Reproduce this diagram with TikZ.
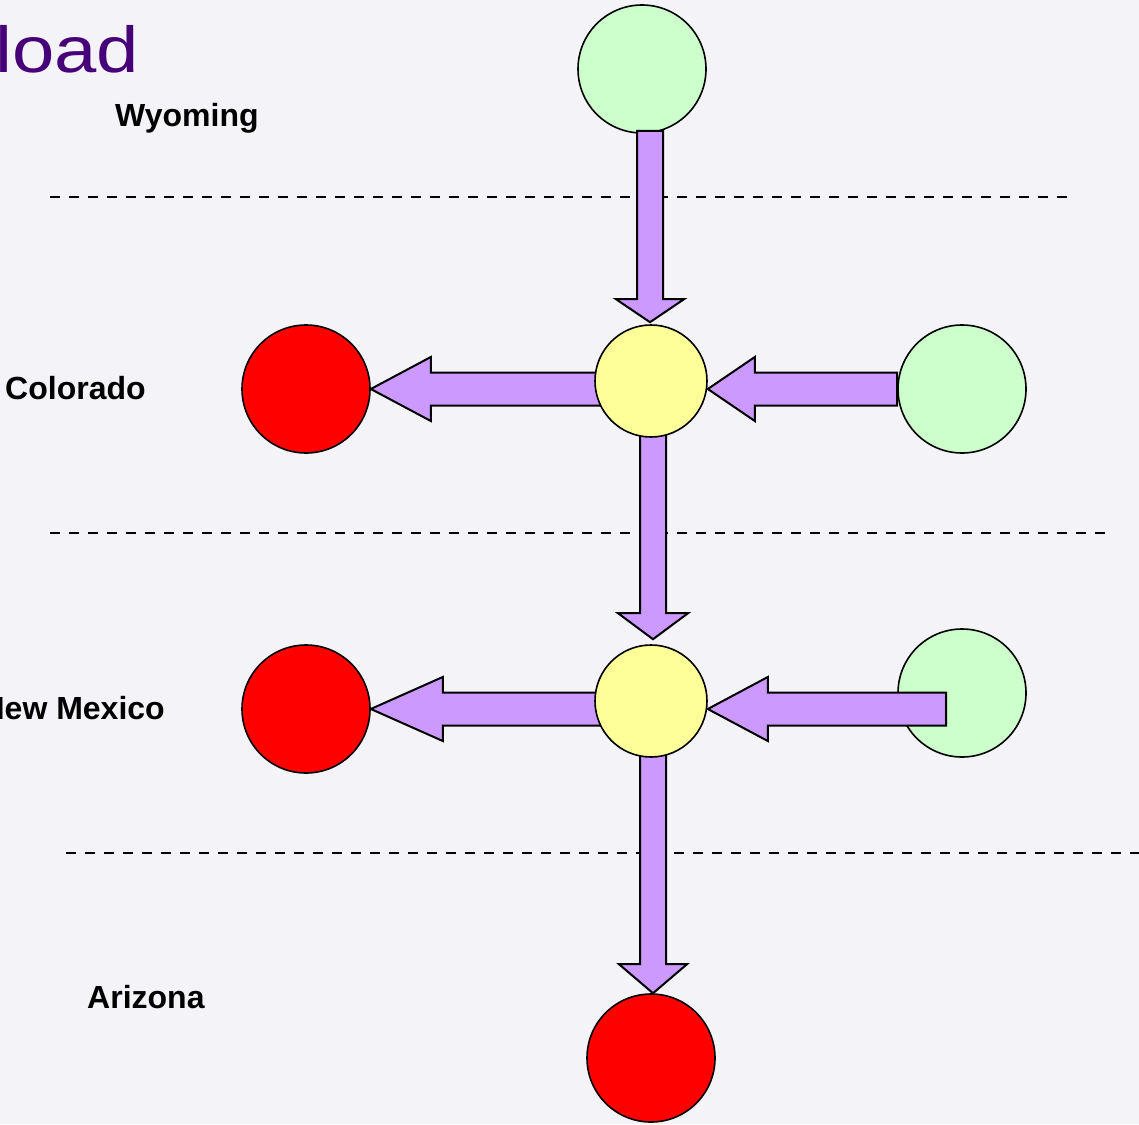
\documentclass[tikz,border=0pt]{standalone}
\usepackage{fontspec}
\setmainfont{Liberation Sans}
\usetikzlibrary{calc}
\definecolor{bgc}{RGB}{244,244,248}
\definecolor{grn}{RGB}{204,255,204}
\definecolor{ylw}{RGB}{255,255,153}
\definecolor{rd}{RGB}{255,0,0}
\definecolor{prp}{RGB}{204,153,255}
\definecolor{ttl}{RGB}{70,0,120}
\pgfdeclarelayer{back}
\pgfdeclarelayer{mid}
\pgfsetlayers{back,mid,main}
\newcommand\blkdown[5]{%
  \draw[blk] ($(#1)+(-#3,0)$) -- ($(#1 |- #2)+(-#3,-#5)$) -- ($(#1 |- #2)+(-#4,-#5)$)
    -- (#1 |- #2) -- ($(#1 |- #2)+(#4,-#5)$) -- ($(#1 |- #2)+(#3,-#5)$) -- ($(#1)+(#3,0)$) -- cycle;}
\newcommand\blkleft[5]{%
  \draw[blk] ($(#1)+(0,-#3)$) -- ($(#1 -| #2)+(#5,-#3)$) -- ($(#1 -| #2)+(#5,-#4)$)
    -- (#1 -| #2) -- ($(#1 -| #2)+(#5,#4)$) -- ($(#1 -| #2)+(#5,#3)$) -- ($(#1)+(0,#3)$) -- cycle;}
\begin{document}
\begin{tikzpicture}[x=1pt,y=-1pt,
  ball/.style={circle,draw=black,line width=1.6pt,inner sep=0pt},
  bigball/.style={ball,minimum size=128pt},
  smallball/.style={ball,minimum size=112pt},
  blk/.style={fill=prp,draw=black,line width=2pt,line join=miter},
  sep/.style={draw=black,line width=2.4pt,dash pattern=on 10pt off 9pt},
  lbl/.style={font=\bfseries\fontsize{32}{38}\selectfont,inner sep=0pt}]
\useasboundingbox (0,0) rectangle (1139,1124);
% main layer: yellow and red balls, texts
\node[smallball,fill=ylw] (y1) at (651,381) {};
\node[smallball,fill=ylw] (y2) at (651,701) {};
\node[bigball,fill=rd] (r1) at (306,389) {};
\node[bigball,fill=rd] (r2) at (306,709) {};
\node[bigball,fill=rd] (r3) at (651,1058) {};
\node[inner sep=0pt,anchor=base west,text=ttl,font=\fontsize{65}{70}\selectfont] (title) at (-5,72) {\scalebox{1.17}[1]{load}};
\node[lbl,anchor=base west] (wy) at (115,126) {Wyoming};
\node[lbl,anchor=base west] (co) at (5,399) {Colorado};
\node[lbl,anchor=base east] (nm) at (165,719) {New Mexico};
\node[lbl,anchor=base west] (az) at (87,1008) {Arizona};
\begin{pgfonlayer}{back}
  \fill[bgc] (0,0) rectangle (1139,1124);
  \draw[sep] (50,197) -- (1072,197);
  \draw[sep] (50,533) -- (1107,533);
  \draw[sep] (66,853) -- (1139,853);
  \node[bigball,fill=grn] (g1) at (642,69) {};
  \node[bigball,fill=grn] (g2) at (962,389) {};
  \node[bigball,fill=grn] (g3) at (962,693) {};
\end{pgfonlayer}
\begin{pgfonlayer}{mid}
  % Wyoming -> Colorado junction
  \coordinate (a1s) at ($(g1.south -| y1)+(-1,-3)$);
  \coordinate (a1t) at ($(y1.north)+(-1,-2)$);
  \blkdown{a1s}{a1t}{13}{34}{23}
  % junction 1 -> red 1
  \coordinate (a2s) at ($(y1.center)+(0,8)$);
  \blkleft{a2s}{r1.east}{16.5}{32}{60}
  % green 2 -> junction 1
  \coordinate (a3s) at (g2.west);
  \coordinate (a3t) at (g2.west -| y1.east);
  \blkleft{a3s}{a3t}{16.5}{32}{47}
  % junction 1 -> junction 2
  \coordinate (a4s) at ($(y1.center)+(2,0)$);
  \coordinate (a4t) at ($(y2.north)+(2,-5)$);
  \blkdown{a4s}{a4t}{13}{35}{26}
  % junction 2 -> red 2
  \coordinate (a5s) at ($(y2.center)+(0,8)$);
  \blkleft{a5s}{r2.east}{16.5}{32}{72}
  % green 3 -> junction 2
  \coordinate (a6s) at ($(g3.center)+(-16,16)$);
  \coordinate (a6t) at (a6s -| y2.east);
  \blkleft{a6s}{a6t}{16.5}{32}{60}
  % junction 2 -> red 3
  \coordinate (a7s) at ($(y2.center)+(2,0)$);
  \coordinate (a7t) at ($(r3.north)+(2,0)$);
  \blkdown{a7s}{a7t}{13}{34}{29}
\end{pgfonlayer}
\end{tikzpicture}
\end{document}
